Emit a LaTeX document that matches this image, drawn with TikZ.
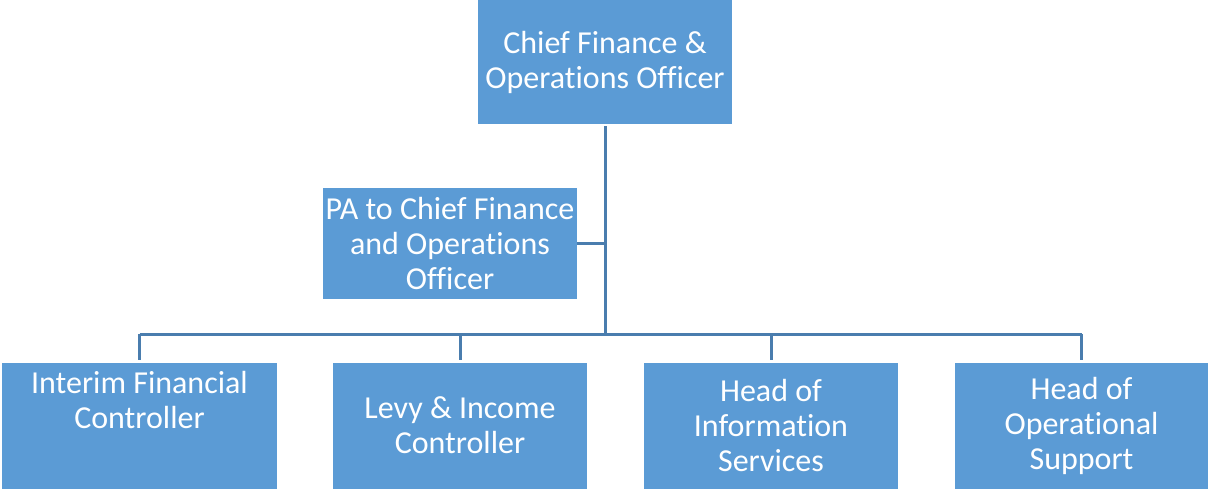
\documentclass[tikz,border=0pt]{standalone}
\usepackage{fontspec}
\setmainfont{Carlito}[Ligatures={NoCommon}]
\definecolor{boxfill}{HTML}{5B9BD5}
\definecolor{linec}{HTML}{4A7DAE}
\tikzset{
  orgbox/.style={rectangle, fill=boxfill, draw=none, text=white, align=center,
    font=\fontsize{32}{35}\selectfont, inner sep=0pt},
  conn/.style={draw=linec, line width=3pt}
}
\begin{document}
\begin{tikzpicture}[x=1pt,y=-1pt]
\useasboundingbox (0,0) rectangle (1209,489);
\node[orgbox, minimum width=254pt, minimum height=124pt] (top) at (605,62) {Chief Finance \&\\Operations Officer};
\node[orgbox, minimum width=254pt, minimum height=111pt] (pa) at (450,243.5) {PA to Chief Finance\\and Operations\\Officer};
\node[orgbox, minimum width=275pt, minimum height=126pt] (b1) at (139.5,425.5) {Interim Financial\\Controller\\[6pt]\strut};
\node[orgbox, minimum width=254pt, minimum height=126pt] (b2) at (460,425.5) {Levy \& Income\\Controller};
\node[orgbox, minimum width=254pt, minimum height=126pt] (b3) at (771,425.5) {Head of\\Information\\Services};
\node[orgbox, minimum width=253pt, minimum height=126pt] (b4) at (1081.5,425.5) {Head of\\Operational\\Support};
\coordinate (bus) at (605,334);
\draw[conn, shorten <=2pt] (top.south) -- (bus);
\draw[conn] (pa.east) -- (pa.east -| bus);
\draw[conn] (b1.north |- bus) -- (b4.north |- bus);
\draw[conn, shorten >=2pt] (b1.north |- bus) -- (b1.north);
\draw[conn, shorten >=2pt] (b2.north |- bus) -- (b2.north);
\draw[conn, shorten >=2pt] (b3.north |- bus) -- (b3.north);
\draw[conn, shorten >=2pt] (b4.north |- bus) -- (b4.north);
\end{tikzpicture}
\end{document}
